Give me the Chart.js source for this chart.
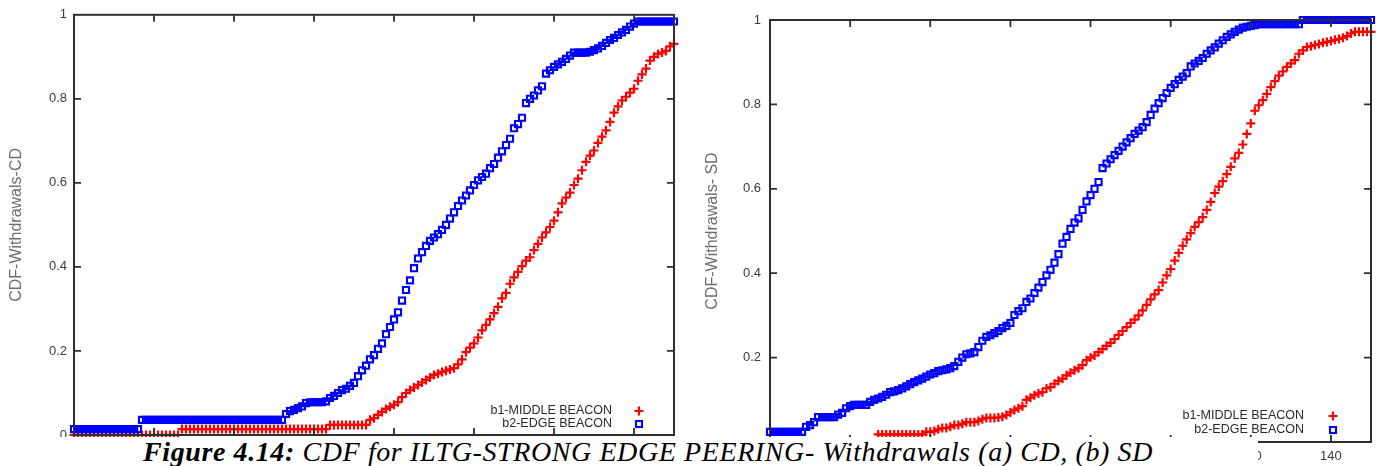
<!DOCTYPE html>
<html>
<head>
<meta charset="utf-8">
<script src="https://cdn.jsdelivr.net/npm/chart.js@4.4.1/dist/chart.umd.min.js"></script>
<style>
  html, body { margin: 0; padding: 0; background: #fff; }
  body { width: 1379px; height: 466px; position: relative; overflow: hidden; }
  canvas { position: absolute; top: 0; }
  #cd { left: 0; }
  #sd { left: 690px; }
  #caption {
    position: absolute; left: 0; top: 437px; width: 1258px; height: 29px;
    background: #fff; white-space: nowrap; overflow: hidden;
    font-family: "Liberation Serif", "Times New Roman", serif;
    font-style: italic; font-size: 28px; line-height: 29px; color: #000;
    letter-spacing: 0.6px;
  }
  #caption span { position: absolute; left: 143px; top: 0; }
</style>
</head>
<body>
<canvas id="cd" width="690" height="466"></canvas>
<canvas id="sd" width="689" height="466"></canvas>
<div id="caption"><span><b>Figure 4.14:</b> CDF for ILTG-STRONG EDGE PEERING- Withdrawals (a) CD, (b) SD</span></div>
<script>
// x values (same for both plots)
const xValues = [
  0, 1, 2, 3, 4, 5, 6, 7, 8, 9,
  10, 11, 12, 13, 14, 15, 16, 17, 18, 19,
  20, 21, 22, 23, 24, 25, 26, 27, 28, 29,
  30, 31, 32, 33, 34, 35, 36, 37, 38, 39,
  40, 41, 42, 43, 44, 45, 46, 47, 48, 49,
  50, 51, 52, 53, 54, 55, 56, 57, 58, 59,
  60, 61, 62, 63, 64, 65, 66, 67, 68, 69,
  70, 71, 72, 73, 74, 75, 76, 77, 78, 79,
  80, 81, 82, 83, 84, 85, 86, 87, 88, 89,
  90, 91, 92, 93, 94, 95, 96, 97, 98, 99,
  100, 101, 102, 103, 104, 105, 106, 107, 108, 109,
  110, 111, 112, 113, 114, 115, 116, 117, 118, 119,
  120, 121, 122, 123, 124, 125, 126, 127, 128, 129,
  130, 131, 132, 133, 134, 135, 136, 137, 138, 139,
  140, 141, 142, 143, 144, 145, 146, 147, 148, 149, 150
];

const xTicks = [0, 20, 40, 60, 80, 100, 120, 140];
const yTicks = [0, 0.2, 0.4, 0.6, 0.8, 1];
const seriesNames = ["b1-MIDDLE BEACON", "b2-EDGE BEACON"];

// (a) CD
const cdMiddle = [
  0, 0, 0, 0, 0, 0, 0, 0, 0, 0,
  0, 0, 0, 0, 0, 0, 0, 0, 0, 0,
  0, 0, 0, 0, 0, 0, 0, 0.014, 0.014, 0.014,
  0.014, 0.014, 0.014, 0.014, 0.014, 0.014, 0.014, 0.014, 0.014, 0.014,
  0.014, 0.014, 0.014, 0.014, 0.014, 0.014, 0.014, 0.014, 0.014, 0.014,
  0.014, 0.014, 0.014, 0.014, 0.014, 0.014, 0.014, 0.014, 0.014, 0.014,
  0.014, 0.014, 0.014, 0.014, 0.024, 0.024, 0.024, 0.024, 0.024, 0.024,
  0.024, 0.024, 0.024, 0.024, 0.036, 0.04, 0.048, 0.055, 0.062, 0.067,
  0.072, 0.078, 0.09, 0.1, 0.107, 0.113, 0.119, 0.125, 0.131, 0.137,
  0.143, 0.146, 0.15, 0.153, 0.156, 0.159, 0.168, 0.18, 0.197, 0.208,
  0.218, 0.232, 0.249, 0.262, 0.275, 0.29, 0.305, 0.325, 0.338, 0.36,
  0.375, 0.388, 0.402, 0.415, 0.423, 0.44, 0.455, 0.47, 0.482, 0.495,
  0.51, 0.53, 0.551, 0.565, 0.577, 0.595, 0.61, 0.63, 0.65, 0.665,
  0.677, 0.695, 0.71, 0.725, 0.745, 0.767, 0.782, 0.796, 0.805, 0.815,
  0.824, 0.843, 0.858, 0.872, 0.891, 0.9, 0.907, 0.91, 0.914, 0.925, 0.931
];
const cdEdge = [
  0.014, 0.014, 0.014, 0.014, 0.014, 0.014, 0.014, 0.014, 0.014, 0.014,
  0.014, 0.014, 0.014, 0.014, 0.014, 0.014, 0.014, 0.036, 0.036, 0.036,
  0.036, 0.036, 0.036, 0.036, 0.036, 0.036, 0.036, 0.036, 0.036, 0.036,
  0.036, 0.036, 0.036, 0.036, 0.036, 0.036, 0.036, 0.036, 0.036, 0.036,
  0.036, 0.036, 0.036, 0.036, 0.036, 0.036, 0.036, 0.036, 0.036, 0.036,
  0.036, 0.036, 0.036, 0.05, 0.057, 0.06, 0.064, 0.068, 0.076, 0.078,
  0.078, 0.078, 0.078, 0.08, 0.088, 0.093, 0.1, 0.107, 0.11, 0.117,
  0.124, 0.14, 0.154, 0.165, 0.18, 0.19, 0.205, 0.218, 0.24, 0.257,
  0.275, 0.292, 0.32, 0.345, 0.368, 0.397, 0.42, 0.435, 0.45, 0.462,
  0.47, 0.478, 0.488, 0.5, 0.515, 0.53, 0.545, 0.558, 0.57, 0.582,
  0.595, 0.606, 0.614, 0.622, 0.635, 0.645, 0.66, 0.675, 0.69, 0.705,
  0.73, 0.74, 0.755, 0.79, 0.8, 0.808, 0.82, 0.83, 0.86, 0.868,
  0.876, 0.882, 0.888, 0.895, 0.903, 0.91, 0.91, 0.91, 0.91, 0.912,
  0.916, 0.92, 0.926, 0.933, 0.94, 0.945, 0.952, 0.958, 0.964, 0.972,
  0.979, 0.984, 0.984, 0.984, 0.984, 0.984, 0.984, 0.984, 0.984, 0.984, 0.984
];

// (b) SD
const sdMiddle = [
  0, 0, 0, 0, 0, 0, 0, 0, 0, 0,
  0, 0, 0, 0, 0, 0, 0, 0, 0, 0,
  0, 0, 0, 0, 0, 0, 0, 0.018, 0.018, 0.018,
  0.018, 0.018, 0.018, 0.018, 0.018, 0.018, 0.018, 0.018, 0.018, 0.024,
  0.024, 0.026, 0.03, 0.033, 0.033, 0.036, 0.04, 0.04, 0.043, 0.047,
  0.047, 0.047, 0.05, 0.054, 0.057, 0.057, 0.057, 0.058, 0.06, 0.064,
  0.07, 0.076, 0.08, 0.085, 0.1, 0.105, 0.111, 0.115, 0.118, 0.127,
  0.13, 0.138, 0.145, 0.15, 0.158, 0.164, 0.17, 0.175, 0.182, 0.194,
  0.2, 0.205, 0.213, 0.22, 0.228, 0.235, 0.244, 0.254, 0.263, 0.272,
  0.282, 0.29, 0.3, 0.312, 0.325, 0.338, 0.35, 0.36, 0.378, 0.395,
  0.41, 0.43, 0.448, 0.465, 0.48, 0.495, 0.51, 0.521, 0.533, 0.55,
  0.569, 0.59, 0.605, 0.618, 0.635, 0.652, 0.672, 0.685, 0.705, 0.73,
  0.755, 0.785, 0.798, 0.81, 0.825, 0.841, 0.855, 0.868, 0.878, 0.889,
  0.897, 0.905, 0.92, 0.928, 0.936, 0.938, 0.941, 0.943, 0.946, 0.948,
  0.95, 0.953, 0.955, 0.958, 0.962, 0.968, 0.972, 0.972, 0.972, 0.972, 0.972
];
const sdEdge = [
  0.024, 0.024, 0.024, 0.024, 0.024, 0.024, 0.024, 0.024, 0.024, 0.036,
  0.04, 0.047, 0.059, 0.059, 0.059, 0.059, 0.059, 0.065, 0.069, 0.08,
  0.085, 0.088, 0.088, 0.088, 0.088, 0.095, 0.1, 0.103, 0.107, 0.112,
  0.118, 0.12, 0.123, 0.127, 0.132, 0.137, 0.142, 0.146, 0.15, 0.155,
  0.16, 0.163, 0.168, 0.17, 0.172, 0.175, 0.18, 0.19, 0.2, 0.208,
  0.21, 0.213, 0.225, 0.24, 0.249, 0.253, 0.258, 0.263, 0.27, 0.275,
  0.282, 0.301, 0.31, 0.317, 0.332, 0.34, 0.353, 0.366, 0.379, 0.395,
  0.408, 0.425, 0.445, 0.47, 0.486, 0.505, 0.52, 0.53, 0.55, 0.57,
  0.585, 0.6, 0.616, 0.649, 0.66, 0.67, 0.68, 0.69, 0.7, 0.71,
  0.72, 0.73, 0.738, 0.746, 0.758, 0.775, 0.79, 0.803, 0.815, 0.827,
  0.839, 0.848, 0.858, 0.866, 0.874, 0.89, 0.897, 0.903, 0.91, 0.92,
  0.928, 0.935, 0.944, 0.952, 0.96, 0.966, 0.972, 0.977, 0.982, 0.984,
  0.986, 0.988, 0.99, 0.99, 0.99, 0.99, 0.99, 0.99, 0.99, 0.99,
  0.99, 0.99, 0.99, 1, 1, 1, 1, 1, 1, 1,
  1, 1, 1, 1, 1, 1, 1, 1, 1, 1, 1
];

const RED = "#ff0000";
const BLUE = "#0000ff";

// gnuplot-like border, inward ticks and key
function gnuplotFrame(geo) {
  return {
    id: "gnuplotFrame",
    afterDatasetsDraw(chart) {
      const { ctx, chartArea, scales } = chart;
      const { left, right, top, bottom } = chartArea;
      ctx.save();
      ctx.strokeStyle = "#2e2e2e";
      ctx.lineWidth = 2;
      ctx.strokeRect(left, top, right - left, bottom - top);

      ctx.lineWidth = 1.8;
      ctx.beginPath();
      xTicks.forEach((v) => {
        if (v <= 0) return;
        const px = scales.x.getPixelForValue(v);
        ctx.moveTo(px, bottom); ctx.lineTo(px, bottom - 7);
        ctx.moveTo(px, top); ctx.lineTo(px, top + 7);
      });
      yTicks.forEach((v) => {
        if (v <= 0 || v >= 1) return;
        const py = scales.y.getPixelForValue(v);
        ctx.moveTo(left, py); ctx.lineTo(left + 7, py);
        ctx.moveTo(right, py); ctx.lineTo(right - 7, py);
      });
      ctx.stroke();

      // key
      ctx.font = "12.5px 'Liberation Sans', Arial, sans-serif";
      ctx.fillStyle = "#2a2a2a";
      ctx.textAlign = "right";
      ctx.textBaseline = "middle";
      const tx = right - geo.keyText;
      const mx = right - geo.keyMark;
      const rows = [bottom - geo.keyRow1, bottom - geo.keyRow2];
      ctx.fillText(seriesNames[0], tx, rows[0]);
      ctx.fillText(seriesNames[1], tx, rows[1]);
      ctx.lineWidth = 2.2;
      ctx.strokeStyle = RED;
      ctx.beginPath();
      ctx.moveTo(mx - 4.5, rows[0]); ctx.lineTo(mx + 4.5, rows[0]);
      ctx.moveTo(mx, rows[0] - 4.5); ctx.lineTo(mx, rows[0] + 4.5);
      ctx.stroke();
      ctx.lineWidth = 2.1;
      ctx.strokeStyle = BLUE;
      ctx.strokeRect(mx - 3, rows[1] - 3, 6, 6);
      ctx.restore();
    }
  };
}

const tickFont = { family: "'Liberation Sans', Arial, sans-serif", size: 13 };
const gnuLabel = (v) => String(Math.round(v * 10) / 10);

function makeChart(id, yTitle, middle, edge, geo) {
  const ctx = document.getElementById(id).getContext("2d");
  return new Chart(ctx, {
    type: "scatter",
    data: {
      datasets: [
        {
          label: seriesNames[0],
          data: xValues.map((x, i) => ({ x: x, y: middle[i] })),
          pointStyle: "cross",
          pointRadius: 4.5,
          pointBorderWidth: 2.2,
          borderColor: RED,
          backgroundColor: RED,
          order: 1,
          clip: false
        },
        {
          label: seriesNames[1],
          data: xValues.map((x, i) => ({ x: x, y: edge[i] })),
          pointStyle: "rect",
          pointRadius: 4.3,
          pointBorderWidth: 2.1,
          borderColor: BLUE,
          backgroundColor: "rgba(0,0,0,0)",
          order: 0,
          clip: false
        }
      ]
    },
    options: {
      responsive: false,
      animation: false,
      devicePixelRatio: 1,
      layout: { padding: { top: geo.top, right: geo.right, left: 0, bottom: 0 } },
      plugins: { legend: { display: false }, tooltip: { enabled: false } },
      scales: {
        x: {
          type: "linear",
          min: 0,
          max: 150,
          afterFit: (s) => { s.height = geo.xh; },
          grid: { display: false, drawTicks: false },
          border: { display: false },
          afterBuildTicks: (s) => { s.ticks = xTicks.map((v) => ({ value: v })); },
          ticks: { padding: 7, maxRotation: 0, color: "#3a3a4a", font: tickFont, callback: gnuLabel }
        },
        y: {
          min: 0,
          max: 1,
          afterFit: (s) => { s.width = geo.yw; },
          grid: { display: false, drawTicks: false },
          border: { display: false },
          afterBuildTicks: (s) => { s.ticks = yTicks.map((v) => ({ value: v })); },
          ticks: { padding: geo.ypad, color: "#3a3a4a", font: tickFont, callback: gnuLabel },
          title: {
            display: true,
            text: yTitle,
            color: "#6e6e6e",
            font: { family: "'Liberation Sans', Arial, sans-serif", size: 16 },
            padding: { top: geo.tpad, bottom: 0 }
          }
        }
      }
    },
    plugins: [gnuplotFrame(geo)]
  });
}

makeChart("cd", "CDF-Withdrawals-CD", cdMiddle, cdEdge, {
  top: 14, right: 16, xh: 31, yw: 74, ypad: 7, tpad: 7,
  keyText: 62, keyMark: 35, keyRow1: 24, keyRow2: 11
});
makeChart("sd", "CDF-Withdrawals- SD", sdMiddle, sdEdge, {
  top: 20, right: 8, xh: 24, yw: 80, ypad: 9, tpad: 13,
  keyText: 67, keyMark: 38, keyRow1: 26, keyRow2: 12
});
</script>
</body>
</html>
